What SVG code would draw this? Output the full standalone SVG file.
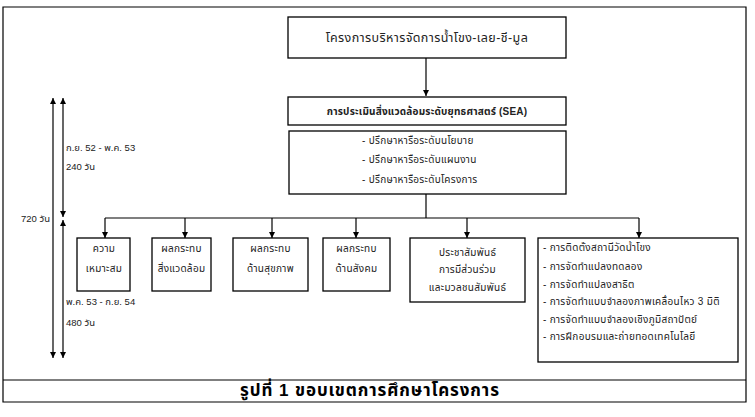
<svg xmlns="http://www.w3.org/2000/svg" width="755" height="417" viewBox="0 0 755 417">
<style>
.box{fill:#fff;stroke:#000;stroke-width:1.3}
.ln{stroke:#000;stroke-width:1.2;fill:none}
.arr{stroke:#000;stroke-width:1.2;fill:none;marker-end:url(#ah)}
.arr2{stroke:#000;stroke-width:1.2;fill:none;marker-end:url(#ah);marker-start:url(#ahs)}
.t{font-family:"Liberation Sans","Noto Sans Thai",sans-serif;font-size:10px;letter-spacing:0.3px;fill:#222}
.lb{font-size:9.5px;letter-spacing:0}
.c{text-anchor:middle}
.big{font-size:12.5px;letter-spacing:0.4px}
.b{font-weight:bold;letter-spacing:0.2px}
.cap{font-family:"Liberation Sans","Noto Sans Thai",sans-serif;font-size:17px;letter-spacing:0.9px;font-weight:bold;fill:#000;text-anchor:middle}
</style>
<defs>
<marker id="ah" viewBox="0 0 10 10" refX="10" refY="5" markerWidth="6" markerHeight="7" markerUnits="userSpaceOnUse" orient="auto"><path d="M0,0L10,5L0,10z" fill="#000"/></marker>
<marker id="ahs" viewBox="0 0 10 10" refX="10" refY="5" markerWidth="6" markerHeight="7" markerUnits="userSpaceOnUse" orient="auto-start-reverse"><path d="M0,0L10,5L0,10z" fill="#000"/></marker>
</defs>
<rect width="755" height="417" fill="#fff"/>
<g id="frame">
<path class="ln" d="M3,7H746V402H3Z"/>
<path class="ln" d="M3,380H746"/>
</g>
<g id="connectors">
<path class="arr" d="M426,58V96"/>
<path class="ln" d="M426,194V218"/>
<path class="ln" d="M105,218H639"/>
<path class="arr" d="M105,218V238"/>
<path class="arr" d="M185,218V238"/>
<path class="arr" d="M272,218V238"/>
<path class="arr" d="M356,218V238"/>
<path class="arr" d="M467,218V238"/>
<path class="arr" d="M639,218V238"/>
<path class="arr2" d="M53,98V358"/>
<path class="arr2" d="M63,98V217"/>
<path class="arr2" d="M63,220V358"/>
</g>
<g id="n-top"><rect class="box" x="288" y="17" width="278" height="41"/><text class="t c big" x="427" y="42">โครงการบริหารจัดการน้ำโขง-เลย-ชี-มูล</text></g>
<g id="n-sea"><rect class="box" x="288" y="97" width="278" height="28"/><text class="t c b" x="427" y="114.5">การประเมินสิ่งแวดล้อมระดับยุทธศาสตร์ (SEA)</text></g>
<g id="n-consult"><rect class="box" x="289" y="131" width="277" height="63"/>
<text class="t" x="362" y="143.5">- ปรึกษาหารือระดับนโยบาย</text>
<text class="t" x="362" y="163">- ปรึกษาหารือระดับแผนงาน</text>
<text class="t" x="362" y="182.5">- ปรึกษาหารือระดับโครงการ</text></g>
<g id="n1"><rect class="box" x="77" y="238" width="53" height="53"/><text class="t c" x="104" y="251.5">ความ</text><text class="t c" x="104" y="271.5">เหมาะสม</text></g>
<g id="n2"><rect class="box" x="152" y="238" width="59" height="53"/><text class="t c" x="181.5" y="251.5">ผลกระทบ</text><text class="t c" x="181.5" y="271.5">สิ่งแวดล้อม</text></g>
<g id="n3"><rect class="box" x="233" y="238" width="75" height="53"/><text class="t c" x="270.5" y="251.5">ผลกระทบ</text><text class="t c" x="270.5" y="271.5">ด้านสุขภาพ</text></g>
<g id="n4"><rect class="box" x="323" y="238" width="67" height="53"/><text class="t c" x="356.5" y="251.5">ผลกระทบ</text><text class="t c" x="356.5" y="271.5">ด้านสังคม</text></g>
<g id="n5"><rect class="box" x="410" y="238" width="115" height="64"/><text class="t c" x="467.5" y="256">ประชาสัมพันธ์</text><text class="t c" x="467.5" y="273">การมีส่วนร่วม</text><text class="t c" x="467.5" y="290.5">และมวลชนสัมพันธ์</text></g>
<g id="n6"><rect class="box" x="538" y="238" width="200" height="124"/>
<text class="t" x="543" y="251">- การติดตั้งสถานีวัดน้ำโขง</text>
<text class="t" x="543" y="270">- การจัดทำแปลงทดลอง</text>
<text class="t" x="543" y="287.5">- การจัดทำแปลงสาธิต</text>
<text class="t" x="543" y="305">- การจัดทำแบบจำลองภาพเคลื่อนไหว 3 มิติ</text>
<text class="t" x="543" y="322.5">- การจัดทำแบบจำลองเชิงภูมิสถาปัตย์</text>
<text class="t" x="543" y="340">- การฝึกอบรมและถ่ายทอดเทคโนโลยี</text></g>
<g id="labels">
<text class="t lb" x="66" y="150.5">ก.ย. 52 - พ.ค. 53</text>
<text class="t lb" x="66" y="170">240 วัน</text>
<text class="t lb" x="21" y="221.5">720 วัน</text>
<text class="t lb" x="66" y="305">พ.ค. 53 - ก.ย. 54</text>
<text class="t lb" x="66" y="326">480 วัน</text>
<text class="cap" x="370" y="396">รูปที่ 1 ขอบเขตการศึกษาโครงการ</text>
</g>
</svg>
